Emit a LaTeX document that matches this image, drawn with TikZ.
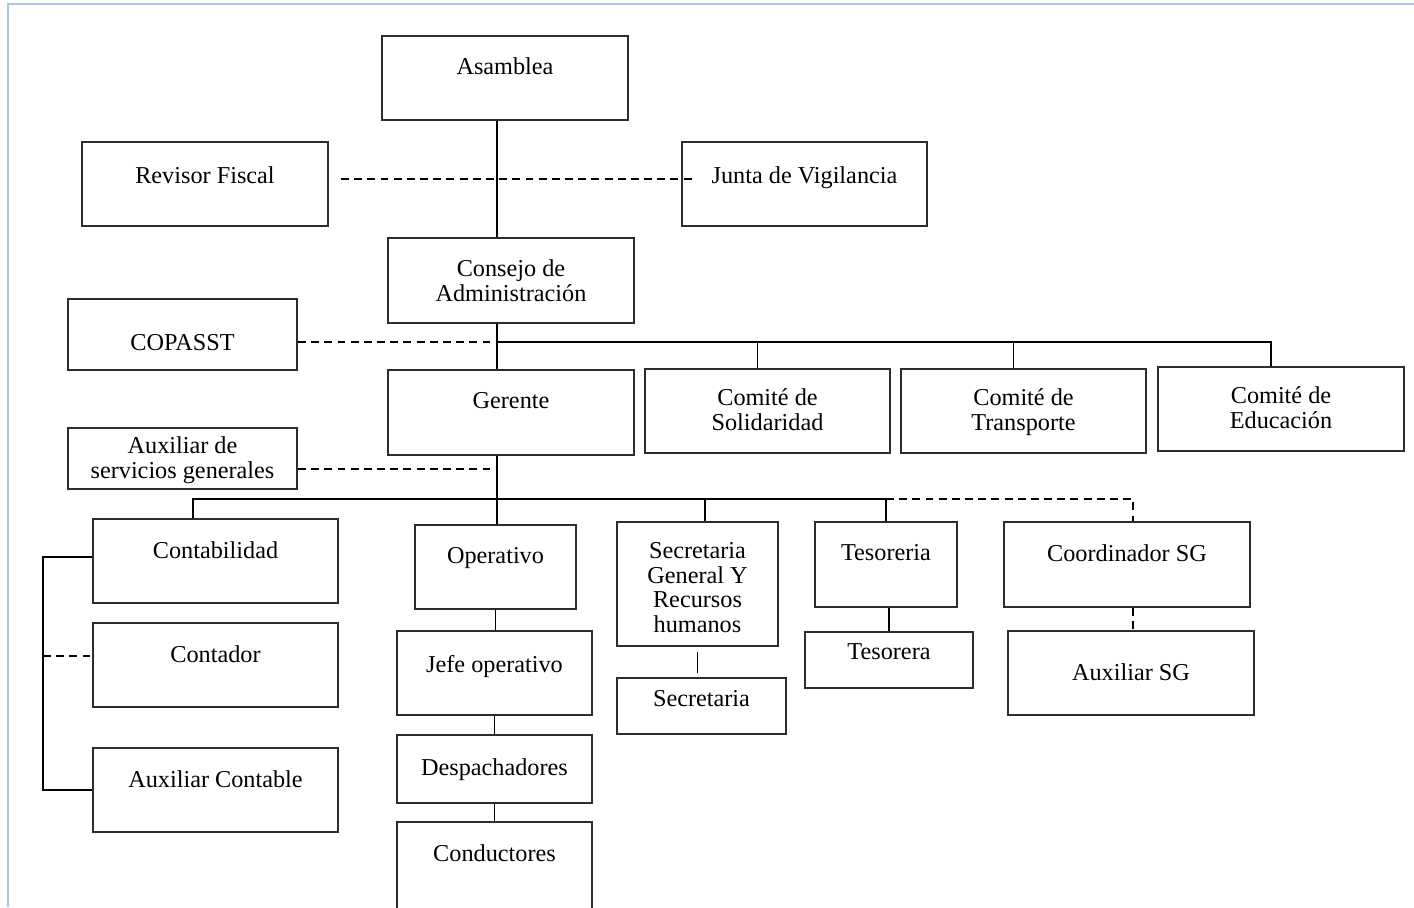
\documentclass[tikz,border=0pt]{standalone}
\usepackage{fontspec}
\setmainfont{Liberation Serif}
\definecolor{framebl}{RGB}{170,196,235}
\definecolor{boxgray}{RGB}{45,45,45}
\begin{document}
\begin{tikzpicture}
[x=0.02cm, y=-0.02cm, font=\fontsize{13.8}{14}\selectfont, line width=0.8pt,
 box/.style 2 args={draw=boxgray, line width=1.2pt, minimum width=#1*0.02cm, minimum height=#2*0.02cm, inner sep=0pt},
 txt/.style={anchor=north, inner sep=0pt, align=center, yshift=-#1*0.02cm},
 txt/.default=22,
 dashline/.style={dash pattern=on 4.5pt off 3pt}]
\useasboundingbox (0,0) rectangle (1414,907);
\clip (0,0) rectangle (1414,907);
\fill[white] (0,0) rectangle (1414,907);
\draw[framebl, line width=1.2pt] (8,907) -- (8,4) -- (1414,4);

% direccion
\node[box={246}{84}] (asam)    at (505,78)    [label={[txt]north:Asamblea}] {};
\node[box={246}{84}] (revisor) at (205,184)   [label={[txt=25]north:Revisor Fiscal}] {};
\node[box={245}{84}] (junta)   at (804.5,184) [label={[txt=25]north:Junta de Vigilancia}] {};
\node[box={246}{85}] (consejo) at (511,280.5) [label={[txt]north:{Consejo de\\Administración}}] {};
\node[box={229}{71}] (copasst) at (182.5,334.5) [label={[txt=36]north:COPASST}] {};
\node[box={246}{85}] (gerente) at (511,412.5) [label={[txt=23]north:Gerente}] {};

% comites
\node[box={245}{84}] (solid)   at (767.5,411)  [label={[txt=20]north:{Comité de\\Solidaridad}}] {};
\node[box={245}{84}] (transp)  at (1023.5,411) [label={[txt=20]north:{Comité de\\Transporte}}] {};
\node[box={246}{84}] (educ)    at (1281,409)   [label={[txt=20]north:{Comité de\\Educación}}] {};
\node[box={229}{61}] (auxserv) at (182.5,458.5) [label={[txt=9]north:{Auxiliar de\\servicios generales}}] {};

% areas
\node[box={245}{84}]  (contab)    at (215.5,561) [label={[txt=23]north:Contabilidad}] {};
\node[box={161}{84}]  (operat)    at (495.5,567) [label={[txt=23]north:Operativo}] {};
\node[box={161}{124}] (secgen)    at (697.5,584) [label={[txt=21]north:{Secretaria\\General Y\\Recursos\\humanos}}] {};
\node[box={142}{85}]  (tesoreria) at (886,564.5) [label={[txt=23]north:Tesoreria}] {};
\node[box={246}{85}]  (coord)     at (1127,564.5) [label={[txt=23]north:Coordinador SG}] {};

% cargos
\node[box={245}{84}] (contador) at (215.5,665) [label={[txt=23]north:Contador}] {};
\node[box={245}{84}] (auxcont)  at (215.5,790) [label={[txt=23]north:Auxiliar Contable}] {};
\node[box={195}{84}] (jefe)     at (494.5,673) [label={[txt=25]north:Jefe operativo}] {};
\node[box={195}{68}] (desp)     at (494.5,769) [label={[txt=24]north:Despachadores}] {};
\node[box={195}{90}] (conduct)  at (494.5,867) [label={[txt=23]north:Conductores}] {};
\node[box={169}{56}] (secret)   at (701.5,706) [label={[txt=13]north:Secretaria}] {};
\node[box={168}{56}] (tesorera) at (889,660)   [label={[txt=12]north:Tesorera}] {};
\node[box={246}{84}] (auxsg)    at (1131,673)  [label={[txt=33]north:Auxiliar SG}] {};

\coordinate (trunk) at (497,0);
\coordinate (bus1)  at (497,342);
\coordinate (tap)   at (497,469);
\coordinate (bus2)  at (497,499);
\coordinate (spine) at (43,0);
\coordinate (sgtop) at ([xshift=0.15cm]secgen.north);
\coordinate (cdtop) at ([xshift=0.12cm]coord.north);
\coordinate (ctin)  at ([yshift=0.18cm]contador.west);

\draw (trunk |- asam.south) -- (trunk |- consejo.north);
\draw[dashline] ([xshift=0.24cm, yshift=0.1cm]revisor.east) -- ([xshift=0.3cm, yshift=0.1cm]junta.west);
\draw (trunk |- consejo.south) -- (trunk |- gerente.north);
\foreach \n in {solid,transp,educ}
  \draw ([xshift=-0.2cm]\n.north) |- (bus1);
\draw[dashline] (copasst.east |- bus1) -- (bus1);
\draw (trunk |- gerente.south) -- (trunk |- operat.north);
\draw[dashline] (auxserv.east |- tap) -- (tap);
\draw ([xshift=-0.45cm]contab.north) |- (tesoreria.north |- bus2) -- (tesoreria.north);
\draw (sgtop) -- (sgtop |- bus2);
\draw[dashline] (tesoreria.north |- bus2) -| (cdtop);

\draw (operat.south) -- (operat.south |- jefe.north);
\draw (jefe.south) -- (jefe.south |- desp.north);
\draw (desp.south) -- (desp.south |- conduct.north);
\draw ([yshift=-0.1cm]secgen.south) -- ([yshift=0.08cm]secgen.south |- secret.north);
\draw (tesorera.north) -- (tesorera.north |- tesoreria.south);
\draw[dashline] (cdtop |- coord.south) -- (cdtop |- auxsg.north);

\draw ([yshift=0.08cm]contab.west) -| (spine |- auxcont.west) -- (auxcont.west);
\draw[dashline] (spine |- ctin) -- (ctin);
\end{tikzpicture}
\end{document}
